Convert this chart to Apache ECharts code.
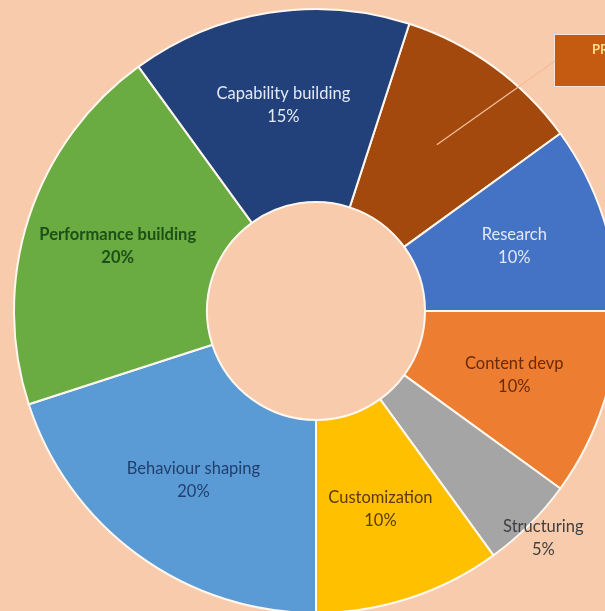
<!DOCTYPE html>
<html>
<head>
<meta charset="utf-8">
<script src="https://cdn.jsdelivr.net/npm/echarts@6/dist/echarts.min.js"></script>
<style>
  html, body { margin: 0; padding: 0; background: #f8cbad; }
  #donutChart { width: 605px; height: 611px; }
</style>
</head>
<body>
<div id="donutChart"></div>
<script>
// slices, clockwise from the top-right one
var categories = ['PR', 'Research', 'Content devp', 'Structuring', 'Customization',
                  'Behaviour shaping', 'Performance building', 'Capability building'];
var values = [10, 10, 10, 5, 10, 20, 20, 15];
var colors = ['#a3490d', '#4472c4', '#ed7d31', '#a5a5a5', '#ffc000', '#5b9bd5', '#6aab42', '#22407a'];
var labelColors = ['#ffe08a', '#e3e9f5', '#6b2a06', '#3f3f3f', '#5a3a00', '#1f3f6e', '#1d4f17', '#e3e9f5'];

var CX = 316, CY = 311, R0 = 109, R1 = 302, START = 72;

var total = values.reduce(function (a, b) { return a + b; }, 0);
function midAngle(i) {
  var before = 0;
  for (var k = 0; k < i; k++) before += values[k];
  return (START - (before + values[i] / 2) / total * 360) * Math.PI / 180;
}

var myChart = echarts.init(document.getElementById('donutChart'));

var data = categories.map(function (name, i) {
  var item = {
    name: name,
    value: values[i],
    itemStyle: { color: colors[i] },
    label: { color: labelColors[i] }
  };
  if (i === 0) {
    item.label = {
      position: 'outside',
      formatter: '{b}',
      color: labelColors[i],
      fontWeight: 'bold',
      fontSize: 13,
      lineHeight: 16,
      backgroundColor: '#c55a11',
      borderColor: '#fbe2d2',
      borderWidth: 1,
      padding: [7, 20, 28, 37]
    };
  }
  if (i === 6) item.label.fontWeight = 'bold';
  return item;
});

// leader line for the PR callout, from the middle of its slice to the box
var a0 = midAngle(0), rm = (R0 + R1) / 2;
var lineStart = [CX + rm * Math.cos(a0), CY - rm * Math.sin(a0)];
var boxX = 555, boxY = 35;

var option = {
  backgroundColor: '#f8cbad',
  animation: false,
  graphic: [
    {
      type: 'polyline',
      z: 100,
      silent: true,
      shape: { points: [lineStart, [boxX, boxY + 26]] },
      style: { stroke: '#f5bd98', lineWidth: 1.3, fill: null }
    }
  ],
  series: [
    {
      type: 'pie',
      center: [CX, CY],
      radius: [R0, R1],
      startAngle: START,
      clockwise: true,
      avoidLabelOverlap: false,
      itemStyle: {
        borderColor: '#fff7ee',
        borderWidth: 2
      },
      label: {
        show: true,
        position: 'inside',
        fontFamily: 'Lato',
        fontSize: 16.5,
        lineHeight: 23,
        formatter: function (p) { return p.name + '\n' + Math.round(p.percent) + '%'; }
      },
      labelLine: { show: false },
      emphasis: { disabled: true },
      labelLayout: function (params) {
        var i = params.dataIndex;
        if (i === 0) {
          return { x: boxX, y: boxY, align: 'left', verticalAlign: 'top' };
        }
        if (i === 3) {
          var b = midAngle(3), push = 113;
          return { dx: push * Math.cos(b), dy: -push * Math.sin(b) };
        }
        return {};
      },
      data: data
    }
  ]
};

myChart.setOption(option);
</script>
</body>
</html>
